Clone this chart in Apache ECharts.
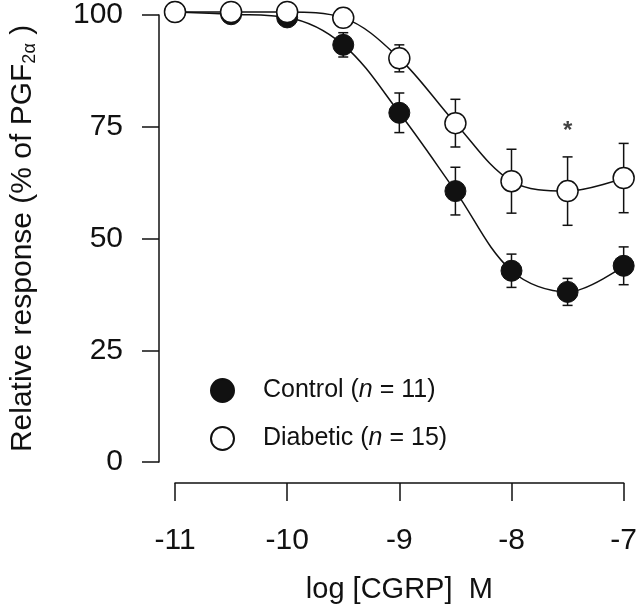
<!DOCTYPE html>
<html>
<head>
<meta charset="utf-8">
<script src="https://cdn.jsdelivr.net/npm/echarts@6/dist/echarts.min.js"></script>
<style>html,body{margin:0;padding:0;background:#fff}#c{width:640px;height:614px}</style>
</head>
<body>
<div id="c"></div>
<script>
var logDose = [-11, -10.5, -10, -9.5, -9, -8.5, -8, -7.5, -7];
var control = [100, 99.5, 98.8, 92.7, 77.6, 60.2, 42.5, 37.8, 43.6];
var controlErr = [0, 0, 0, 2.7, 4.4, 5.3, 3.7, 3.0, 4.2];
var diabetic = [100, 100, 100, 98.7, 89.7, 75.3, 62.4, 60.2, 63.1];
var diabeticErr = [0, 0, 0, 1.0, 3.0, 5.3, 7.1, 7.6, 7.7];
var xTicks = [-11, -10, -9, -8, -7];
var yTicks = [0, 25, 50, 75, 100];
var starPoint = [[-7.5, 74.5]];

var FONT = 'Liberation Sans, Arial, sans-serif';
var INK = '#111';

function pairs(xs, ys) { return xs.map(function (x, i) { return [x, ys[i]]; }); }
function errData(xs, ys, es) { return xs.map(function (x, i) { return [x, ys[i] - es[i], ys[i] + es[i]]; }); }

function errRender(params, api) {
  var x = api.value(0);
  var lo = api.coord([x, api.value(1)]);
  var hi = api.coord([x, api.value(2)]);
  var cw = 5;
  var st = { stroke: INK, lineWidth: 1.5 };
  return {
    type: 'group',
    children: [
      { type: 'line', shape: { x1: lo[0], y1: lo[1], x2: hi[0], y2: hi[1] }, style: st },
      { type: 'line', shape: { x1: hi[0] - cw, y1: hi[1], x2: hi[0] + cw, y2: hi[1] }, style: st },
      { type: 'line', shape: { x1: lo[0] - cw, y1: lo[1], x2: lo[0] + cw, y2: lo[1] }, style: st }
    ]
  };
}

var chart = echarts.init(document.getElementById('c'), null, { renderer: 'canvas' });
chart.setOption({
  animation: false,
  backgroundColor: '#fff',
  textStyle: { fontFamily: FONT, color: INK },
  grid: [
    { left: 154, top: 12, width: 472, height: 450 },
    { left: 175, top: 12, width: 451, height: 471 }
  ],
  xAxis: [
    { gridIndex: 0, type: 'value', min: -11.186, max: -7, show: false },
    {
      gridIndex: 1, type: 'value', min: -11, max: -7, interval: 1,
      axisLine: { show: true, onZero: false, lineStyle: { color: INK, width: 1.5 } },
      axisTick: { show: true, inside: false, length: 18, lineStyle: { color: INK, width: 1.5 } },
      axisLabel: { fontSize: 30, color: INK, fontFamily: FONT, margin: 43,
        formatter: function (v) { return xTicks.indexOf(v) >= 0 ? String(v) : ''; } },
      splitLine: { show: false },
      name: 'log [CGRP]  M', nameLocation: 'middle', nameGap: 92,
      nameTextStyle: { fontSize: 29, color: INK, fontFamily: FONT }
    }
  ],
  yAxis: [
    {
      gridIndex: 0, type: 'value', min: 0, max: 100, interval: 25,
      axisLine: { show: true, lineStyle: { color: INK, width: 1.5 } },
      axisTick: { show: true, inside: false, length: 17, lineStyle: { color: INK, width: 1.5 } },
      axisLabel: { fontSize: 30, color: INK, fontFamily: FONT, margin: 36,
        formatter: function (v) { return yTicks.indexOf(v) >= 0 ? String(v) : ''; } },
      splitLine: { show: false },
      name: 'Relative response (% of PGF{sub|2α} )', nameLocation: 'middle', nameGap: 120,
      nameRotate: 90,
      nameTextStyle: { fontSize: 30, color: INK, fontFamily: FONT,
        rich: { sub: { fontSize: 18, fontFamily: FONT, color: INK, padding: [14, 0, 0, 0], verticalAlign: 'bottom' } } }
    },
    { gridIndex: 1, type: 'value', min: -4.667, max: 100, show: false }
  ],
  legend: {
    orient: 'vertical', left: 205, top: 373, itemWidth: 23, itemHeight: 23, itemGap: 23,
    data: [{ name: 'Control', icon: 'circle' }, { name: 'Diabetic', icon: 'circle' }],
    formatter: function (n) { return n === 'Control' ? '{a|Control (}{i|n}{a| = 11)}' : '{a|Diabetic (}{i|n}{a| = 15)}'; },
    textStyle: { fontSize: 25, color: INK, fontFamily: FONT, padding: [0, 0, 0, 24],
      rich: { a: { fontSize: 25, color: INK, fontFamily: FONT }, i: { fontSize: 25, color: INK, fontFamily: FONT, fontStyle: 'italic' } } }
  },
  series: [
    { name: 'ctrlErr', type: 'custom', xAxisIndex: 1, yAxisIndex: 1, renderItem: errRender,
      data: errData(logDose, control, controlErr), z: 1, clip: false, silent: true },
    { name: 'diabErr', type: 'custom', xAxisIndex: 1, yAxisIndex: 1, renderItem: errRender,
      data: errData(logDose, diabetic, diabeticErr), z: 1, clip: false, silent: true },
    { name: 'Control', type: 'line', xAxisIndex: 1, yAxisIndex: 1, data: pairs(logDose, control),
      smooth: 0.35, symbol: 'circle', symbolSize: 21, clip: false, z: 3,
      lineStyle: { color: INK, width: 1.5 },
      itemStyle: { color: INK, borderColor: INK, borderWidth: 1 } },
    { name: 'Diabetic', type: 'line', xAxisIndex: 1, yAxisIndex: 1, data: pairs(logDose, diabetic),
      smooth: 0.35, symbol: 'circle', symbolSize: 21, clip: false, z: 4,
      lineStyle: { color: INK, width: 1.5 },
      itemStyle: { color: '#fff', borderColor: INK, borderWidth: 1.5 } },
    { name: 'star', type: 'scatter', xAxisIndex: 1, yAxisIndex: 1, data: starPoint, symbolSize: 0,
      label: { show: true, position: 'inside', formatter: '*', fontSize: 24, fontWeight: 'bold', color: INK, fontFamily: FONT, offset: [0, 5] },
      silent: true }
  ]
});
</script>
</body>
</html>
